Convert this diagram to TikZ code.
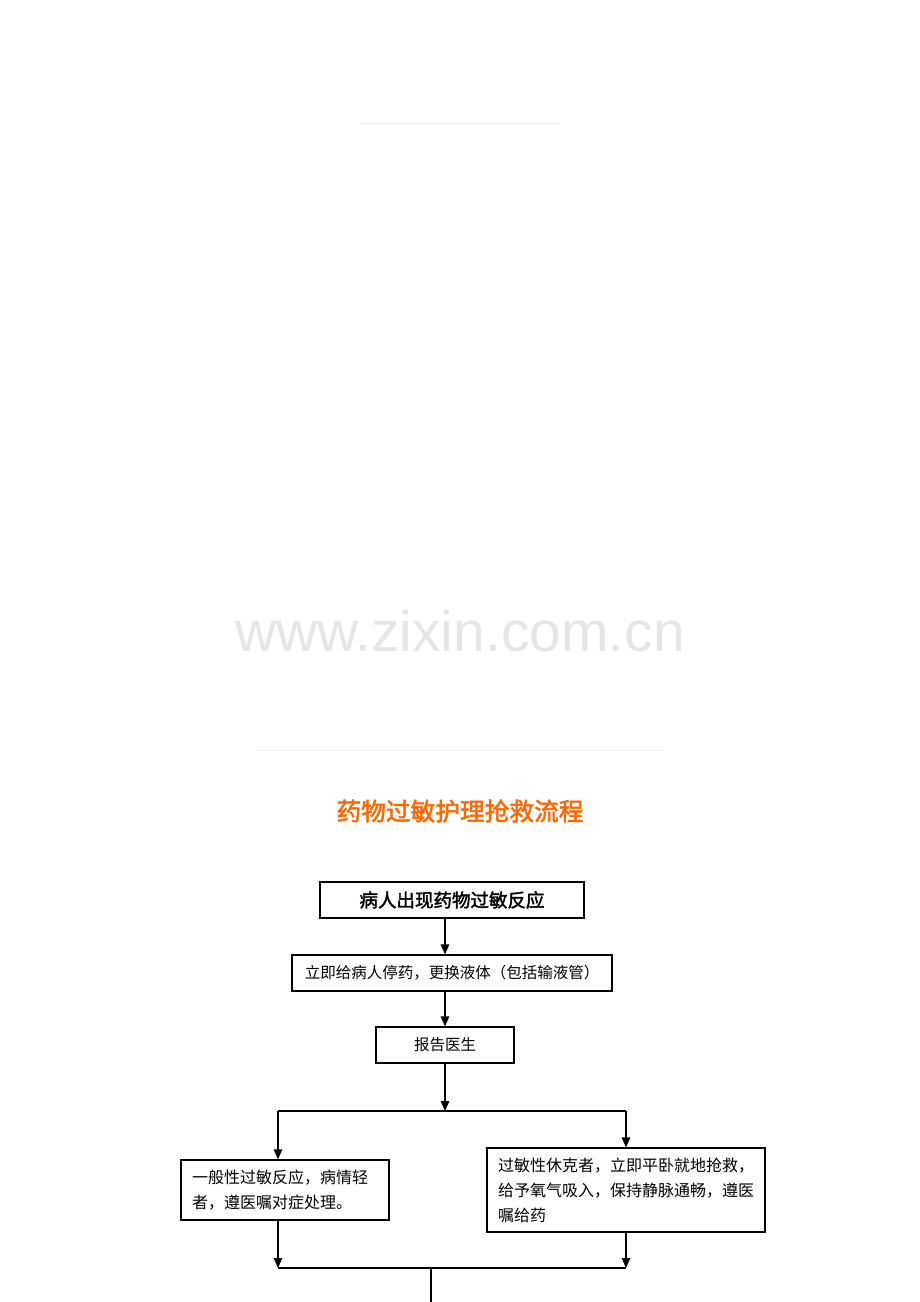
\documentclass[tikz,border=0pt]{standalone}
\usepackage{fontspec}
\usepackage{tikz}
\usetikzlibrary{arrows.meta}
\setsansfont{Liberation Sans}
\newfontfamily\cjk{Noto Sans CJK SC}[AutoFakeBold=2]
\definecolor{titleorange}{RGB}{255,102,0}
\definecolor{markgray}{RGB}{230,230,230}
\definecolor{ghostline}{RGB}{242,242,242}

\begin{document}
\begin{tikzpicture}[x=1pt, y=-1pt, line width=1.2pt, every node/.style={inner sep=0pt},
  box/.style={draw, minimum height=36pt, font=\cjk\fontsize{15.5}{26}\selectfont},
  textbox/.style={box, align=left, inner xsep=11pt, font=\cjk\fontsize{16}{25}\selectfont},
  flow/.style={-{Triangle[length=10pt,width=8.5pt]}}]
                \useasboundingbox (0,0) rectangle (920,1302);
                % faint rules of the page
                \draw[ghostline, line width=0.8pt] (360,123) -- (560,123);
                \draw[ghostline, line width=0.8pt] (256,750) -- (664,750);
                \node[text=markgray, font=\sffamily\fontsize{57}{57}\selectfont, anchor=base] (mark) at (460,651) {www.zixin.com.cn};
                \node[text=titleorange, font=\cjk\bfseries\fontsize{24.7}{25}\selectfont] (title) at (460,811) {药物过敏护理抢救流程};
                % main flow
                \node[box, minimum width=264pt, font=\cjk\bfseries\fontsize{18.5}{19}\selectfont] (onset) at (452,900) {病人出现药物过敏反应};
                \node[box, minimum width=320pt] (stop) at (452,973) {立即给病人停药，更换液体（包括输液管）};
                \node[box, minimum width=138pt] (report) at (445,1045) {报告医生};
                \node[textbox, text width=186pt, minimum height=60pt] (mild) at (285,1190) {一般性过敏反应，病情轻\\者，遵医嘱对症处理。};
                \node[textbox, text width=256pt, minimum height=84pt] (shock) at (626,1190) {过敏性休克者，立即平卧就地抢救，\\给予氧气吸入，保持静脉通畅，遵医\\嘱给药};
                \coordinate (splitL) at (278,1111);
                \coordinate (splitR) at (626,1111);
                \coordinate (joinL) at (278,1268);
                \coordinate (joinR) at (626,1268);
                \coordinate (joinM) at (431,1268);
                \coordinate (onward) at (431,1302);
                \draw[flow] (report |- onset.south) -- (report |- stop.north);
                \draw[flow] (report |- stop.south) -- (report.north);
                \draw[flow] (report.south) -- (report |- splitL);
                \draw (splitL) -- (splitR);
                \draw[flow] (splitL) -- (splitL |- mild.north);
                \draw[flow] (splitR) -- (shock.north);
                \draw[flow] (splitL |- mild.south) -- (joinL);
                \draw[flow] (shock.south) -- (joinR);
                \draw (joinL) -- (joinR);
                \draw (joinM) -- (onward);
            \end{tikzpicture}
\end{document}
